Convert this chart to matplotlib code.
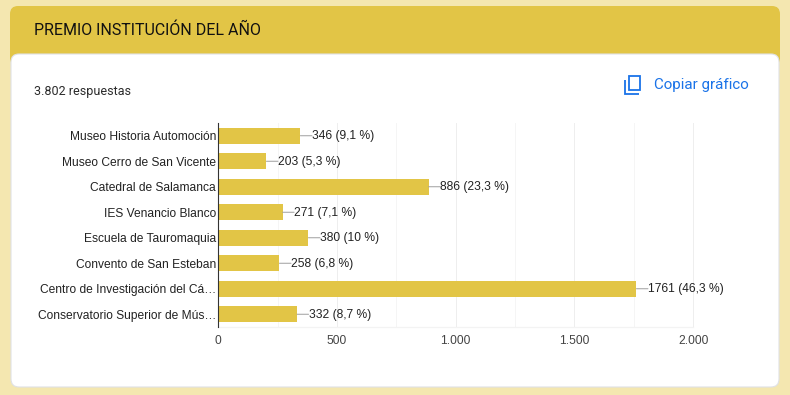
# -*- coding: utf-8 -*-
import matplotlib
matplotlib.use('Agg')
import matplotlib.pyplot as plt
from matplotlib.patches import FancyBboxPatch, Rectangle
from matplotlib.ticker import FixedLocator, FuncFormatter

W, H = 790, 395

#data
categories = ['Museo Historia Automoción', 'Museo Cerro de San Vicente', 'Catedral de Salamanca',
              'IES Venancio Blanco', 'Escuela de Tauromaquia', 'Convento de San Esteban',
              'Centro de Investigación del Cá…', 'Conservatorio Superior de Mús…']
values = [346, 203, 886, 271, 380, 258, 1761, 332]
percents = ['9,1 %', '5,3 %', '23,3 %', '7,1 %', '10 %', '6,8 %', '46,3 %', '8,7 %']
major_ticks = [0, 500, 1000, 1500, 2000]
minor_ticks = [250, 750, 1250, 1750]

page_color = '#f4e7b0'
head_color = '#e2c546'
blue = '#1a73e8'

fig = plt.figure(figsize=(W/100, H/100), dpi=100, facecolor=page_color)

#background in pixel coordinates
bg = fig.add_axes([0, 0, 1, 1])
bg.set_xlim(0, W)
bg.set_ylim(H, 0)
bg.axis('off')
bg.add_patch(FancyBboxPatch((18, 14), 754, 44, boxstyle='round,pad=8,rounding_size=8',
                            fc=head_color, ec='none', zorder=1))
bg.add_patch(FancyBboxPatch((19, 62), 752, 317, boxstyle='round,pad=8,rounding_size=8',
                            fc='white', ec='#dfe1e5', lw=0.8, zorder=2))
bg.text(33.5, 30, 'PREMIO INSTITUCIÓN DEL AÑO', family='Roboto', fontsize=11.5,
        color='#111111', va='center', ha='left', zorder=3)
bg.text(34, 91, '3.802 respuestas', family='Roboto', fontsize=9, color='#2b2b2b',
        va='center', ha='left', zorder=3)
bg.text(653.5, 85, 'Copiar gráfico', family='Roboto', fontsize=10.9,
        color=blue, va='center', ha='left', zorder=3)
#copy icon
bg.add_patch(Rectangle((629.2, 76), 10.6, 14, fc='none', ec=blue, lw=1.3, zorder=3))
bg.plot([625.4, 625.4, 639], [80, 93.5, 93.5], color=blue, lw=1.3, solid_capstyle='butt',
        solid_joinstyle='miter', zorder=3)

#chart
ax = fig.add_axes([218.2/W, 1-327/H, 475/W, 204/H])
ax.patch.set_alpha(0)
y = list(range(len(categories)))
ax.barh(y, values, height=0.62, color=head_color, zorder=3)
ax.set_xlim(0, 2000)
ax.set_ylim(len(categories)-0.5, -0.5)
ax.set_yticks(y)
ax.set_yticklabels(categories, family='Liberation Sans', fontsize=8.64, color='#222222')
ax.xaxis.set_major_locator(FixedLocator(major_ticks))
ax.xaxis.set_minor_locator(FixedLocator(minor_ticks))
ax.xaxis.set_major_formatter(FuncFormatter(lambda v, p: f'{int(v):,}'.replace(',', '.')))
for lab in ax.get_xticklabels():
    lab.set_family('Liberation Sans')
    lab.set_fontsize(8.64)
    lab.set_color('#444444')
ax.tick_params(axis='x', which='both', length=0, pad=6)
ax.tick_params(axis='y', length=0, pad=1.5)
ax.grid(axis='x', which='major', color='#eeeeee', lw=0.72, zorder=0, clip_on=False)
ax.grid(axis='x', which='minor', color='#f5f5f5', lw=0.72, zorder=0)
ax.set_axisbelow(True)
for s in ['top', 'right']:
    ax.spines[s].set_visible(False)
ax.spines['bottom'].set_color('#f3f3f3')
ax.spines['bottom'].set_linewidth(0.9)
ax.spines['left'].set_color('#333333')
ax.spines['left'].set_linewidth(0.8)
ax.spines['left'].set_zorder(5)

#labels, leader line is a separate empty annotation so it stays level
for yy, v, pc in zip(y, values, percents):
    ax.annotate('', xy=(v, yy), xytext=(8.3, 0), textcoords='offset points',
                arrowprops=dict(arrowstyle='-', color='#9e9e9e', lw=0.7, shrinkA=0, shrinkB=0),
                zorder=4)
    ax.annotate(f'{v} ({pc})', xy=(v, yy), xytext=(8.3, -0.5), textcoords='offset points',
                family='Liberation Sans', fontsize=8.64, color='#222222', va='center', ha='left',
                zorder=4)

fig.savefig('out.png', dpi=100, facecolor=page_color)
